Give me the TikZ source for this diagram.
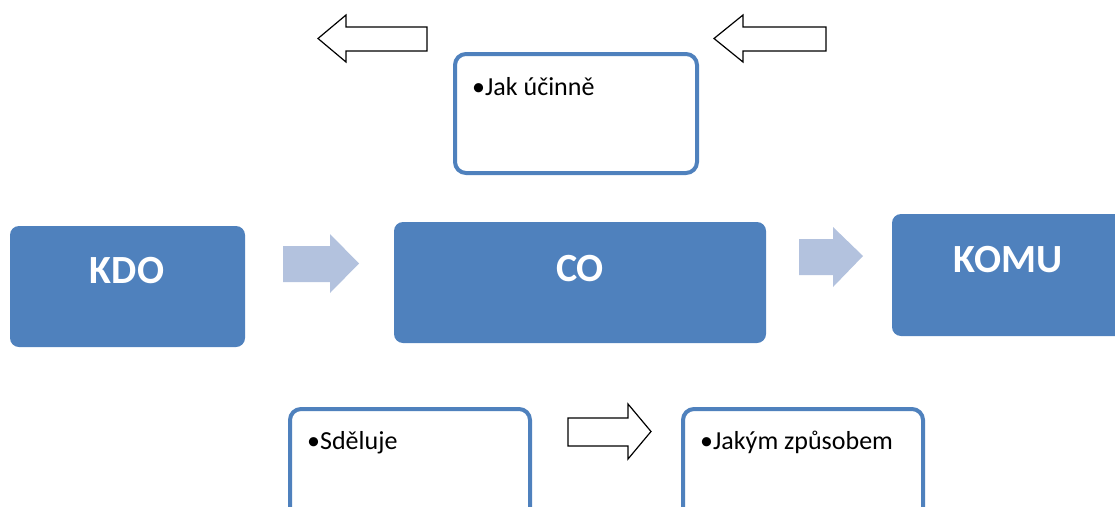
\documentclass[tikz,border=0pt]{standalone}
\usepackage{fontspec}
\setmainfont{Carlito}
\definecolor{accent}{HTML}{4F81BD}
\definecolor{softblue}{HTML}{B3C2DE}
\begin{document}
\begin{tikzpicture}[x=1pt,y=-1pt,
  bluebox/.style={fill=accent, draw=none, rounded corners=9pt},
  outlinebox/.style={draw=accent, line width=4pt, fill=white, rounded corners=11pt},
  hollowarrow/.style={draw=black, line width=1.2pt, fill=white, line join=miter},
  softarrow/.style={fill=softblue, draw=none},
  bigtext/.style={font=\bfseries\fontsize{40}{40}\selectfont, text=white, anchor=base, inner sep=0pt},
  bullettext/.style={font=\fontsize{26}{30}\selectfont, anchor=base west, inner sep=0pt}]
\useasboundingbox (0,0) rectangle (1115,506);
\clip (0,0) rectangle (1115,506);

% top hollow arrows (pointing left)
\draw[hollowarrow] (427,27) -- (346,27) -- (346,15) -- (318,38.5) -- (346,62) -- (346,51) -- (427,51) -- cycle;
\draw[hollowarrow] (826,27) -- (743,27) -- (743,15) -- (714,38.5) -- (743,62) -- (743,51) -- (826,51) -- cycle;

% top outline box
\draw[outlinebox] (455,54) rectangle (697,173);
\node[bullettext] (toptext) at (472,95) {•Jak účinně};

% blue boxes
\draw[bluebox] (10,226) rectangle (245,347);
\node[bigtext] (kdo) at (127,283) {KDO};
\draw[bluebox] (394,222) rectangle (766,343);
\node[bigtext] (co) at (580,281) {CO};
\draw[bluebox] (892,214) rectangle (1140,336);
\node[bigtext] (komu) at (1008,272) {KOMU};

% soft arrows
\draw[softarrow] (283,246) -- (330,246) -- (330,234) -- (359,263.5) -- (330,293) -- (330,282) -- (283,282) -- cycle;
\draw[softarrow] (799,239) -- (833,239) -- (833,227) -- (863,256) -- (833,287) -- (833,275) -- (799,275) -- cycle;

% bottom outline boxes
\draw[outlinebox] (290,409) rectangle (530,540);
\node[bullettext] (sdeluje) at (307,449) {•Sděluje};
\draw[outlinebox] (683,409) rectangle (923,540);
\node[bullettext] (jakym) at (700,449) {•Jakým způsobem};

% bottom hollow arrow (pointing right)
\draw[hollowarrow] (568,418) -- (628,418) -- (628,404) -- (651,431.5) -- (628,459) -- (628,446) -- (568,446) -- cycle;
\end{tikzpicture}
\end{document}
